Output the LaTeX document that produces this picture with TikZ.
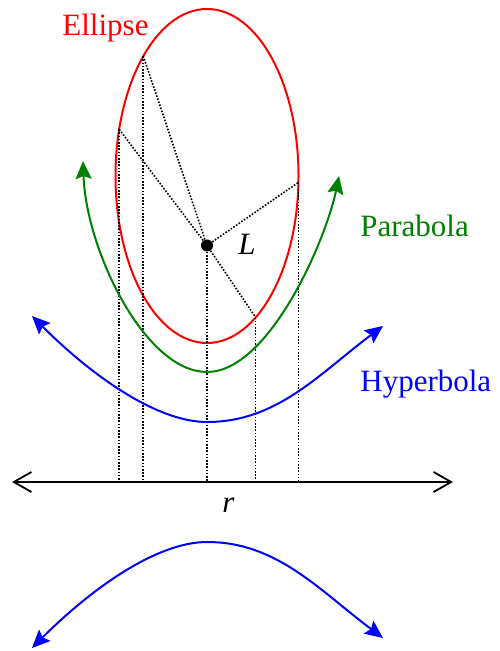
\documentclass[tikz,border=0pt]{standalone}
\usepackage{fontspec}
\setmainfont{Liberation Serif}
\usetikzlibrary{arrows.meta,shapes.geometric}
\tikzset{
	diagram/.style={x=0.5pt, y=-0.5pt, font=\fontsize{15.5}{18}\selectfont},
	elipsa/.style={draw=red, line width=1pt, ellipse, inner sep=0pt, outer sep=0pt,
	               minimum width=91.5pt, minimum height=167pt},
	krivulja/.style={line width=1pt, <->, >={Stealth[length=9pt,width=8pt,inset=1.5pt]}},
	vodilo/.style={line width=0.8pt, dash pattern=on 0.8pt off 0.8pt},
	os/.style={line width=0.9pt, <->, >={Straight Barb[length=8.8pt,width=10pt]}},
	gorisce/.style={circle, fill=black, inner sep=0pt, minimum size=6pt},
	oznaka/.style={anchor=base west, inner sep=0pt},
}

\begin{document}
\begin{tikzpicture}[diagram]
\useasboundingbox (0,0) rectangle (499,651);

% ---------- elipsa, gorisce, premica ----------
\node[elipsa] (elipsa) at (207,176) {};
\node[gorisce] (L) at (207,245.5) {};
\coordinate (rl) at (12,482);
\coordinate (rd) at (453,482);

\coordinate (t1) at (elipsa.118.1);
\coordinate (t2) at (elipsa.152);
\coordinate (t3) at (elipsa.-4.4);
\coordinate (t4) at (elipsa.-71.9);

% ---------- pomozne crte ----------
\foreach \t in {t1,t2,t3,t4} {
    \draw[vodilo] (L.center) -- (\t);
    \draw[vodilo] (\t) -- (\t |- rl);
}
\draw[vodilo] (L.center) -- (L |- rl);

\draw[os] (rl) -- (rd);

% ---------- krivulje ----------
\draw[krivulja, green!50!black] (83,161) .. controls (86,250) and (145,372) .. (207,372)
    .. controls (269,372) and (326,240) .. (339,176);
\draw[krivulja, blue] (32,316) .. controls (92,376) and (157,422) .. (207,422)
    .. controls (277,422) and (319,374) .. (383,326);
\draw[krivulja, blue] (32,648) .. controls (92,588) and (157,542) .. (207,542)
    .. controls (277,542) and (319,590) .. (383,638);

% ---------- napisi ----------
\node[oznaka, text=red] (n-elipsa) at (62,36) {Ellipse};
\node[oznaka, text=green!50!black] (n-parabola) at (360,237) {Parabola};
\node[oznaka, text=blue] (n-hiperbola) at (360,391) {Hyperbola};
\node[oznaka] (n-L) at (238,255) {\textit{L}};
\node[oznaka] (n-r) at (222,512) {\textit{r}};

\end{tikzpicture}
\end{document}
